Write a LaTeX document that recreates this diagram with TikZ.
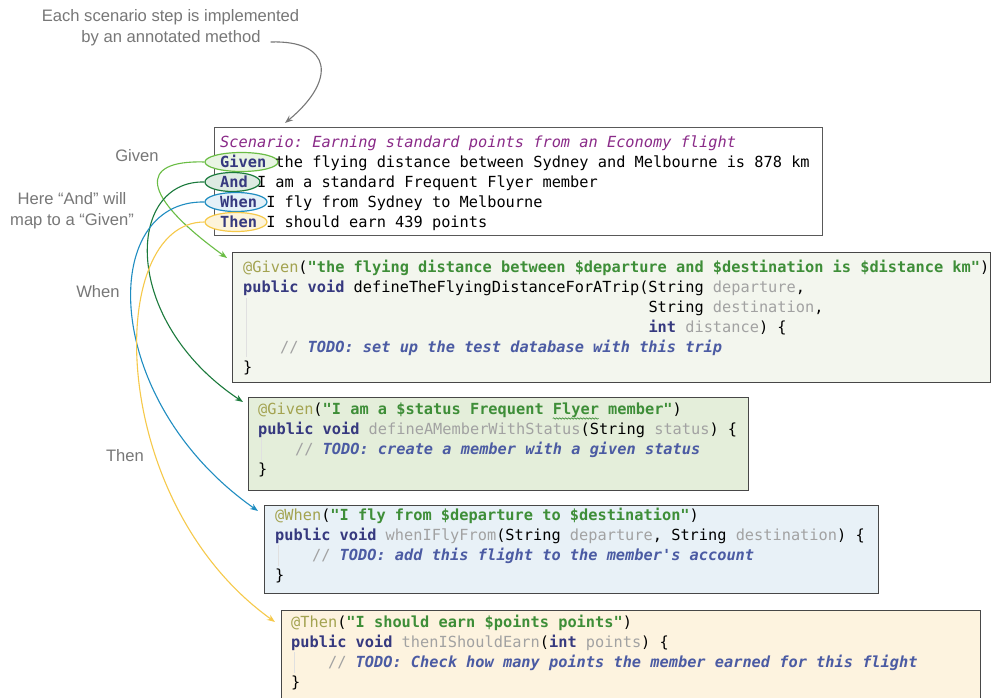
\documentclass[tikz,border=0pt]{standalone}
\usepackage{fontspec}
\setsansfont{Liberation Sans}
\setmonofont{DejaVu Sans Mono}
\usepackage{xcolor}
\usetikzlibrary{shapes.geometric, arrows.meta, positioning, calc, decorations.pathmorphing}

\definecolor{notegray}{HTML}{777777}
\definecolor{annotcol}{HTML}{A3A350}
\definecolor{strcol}{HTML}{3E8E38}
\definecolor{kwcol}{HTML}{36397F}
\definecolor{parcol}{HTML}{A2A2A2}
\definecolor{todocol}{HTML}{4B5BA3}
\definecolor{scencol}{HTML}{8A2A88}
\definecolor{givencol}{HTML}{6ABD45}
\definecolor{andcol}{HTML}{1B7A3C}
\definecolor{whencol}{HTML}{1F8DC1}
\definecolor{thencol}{HTML}{F6C94A}
\definecolor{boxonecol}{HTML}{F3F6EE}
\definecolor{boxtwocol}{HTML}{E4EEDA}
\definecolor{boxthreecol}{HTML}{E8F1F7}
\definecolor{boxfourcol}{HTML}{FDF3DF}

\newcommand{\notefont}{\fontsize{16.6}{21}\selectfont\sffamily}
\newcommand{\codefont}{\fontsize{15.3}{20}\selectfont\ttfamily}
\newcommand{\kwd}[1]{\textbf{\color{kwcol}#1}}
\newcommand{\annot}[1]{{\color{annotcol}#1}}
\newcommand{\strg}[1]{\textbf{\color{strcol}#1}}
\newcommand{\parm}[1]{{\color{parcol}#1}}
\newcommand{\tdo}[1]{{\color{parcol}//} \textbf{\textit{\color{todocol}#1}}}

\begin{document}
\begin{tikzpicture}[x=1pt, y=-1pt,
    note/.style={font=\notefont, text=notegray, inner sep=0pt, align=center},
    codebox/.style={draw=black!72, line width=1pt, anchor=north west, inner sep=0pt, outer sep=0pt},
    code/.style={anchor=north west, inner sep=0pt, align=left, font=\codefont},
    key/.style={ellipse, line width=1.2pt, inner sep=0pt, minimum height=19pt},
    link/.style={-{Stealth[length=8pt, width=6pt]}, line width=1.1pt},
    guide/.style={draw=black!12, line width=0.8pt}
]

\path[use as bounding box, fill=white] (0,0) rectangle (991,698);

% side notes
\node[note] (step1) at (170.5,17) {Each scenario step is implemented};
\node[note] (step2) at (171,38) {by an annotated method};
\node[note] (lGiven) at (137,156) {Given};
\node[note] (lAnd) at (72,211) {Here “And” will\\map to a “Given”};
\node[note] (lWhen) at (98,292) {When};
\node[note] (lThen) at (125,456) {Then};

% feature file
\node[codebox, draw=black!65, fill=white, minimum width=608pt, minimum height=107pt] (scen) at (214,128) {};
\node[key, draw=givencol, fill=givencol!15, minimum width=73pt] (kGiven) at (241.5,162) {};
\node[key, draw=andcol, fill=andcol!15, minimum width=55pt] (kAnd) at (232.5,182) {};
\node[key, draw=whencol, fill=whencol!12, minimum width=62pt] (kWhen) at (236,202) {};
\node[key, draw=thencol, fill=thencol!20, minimum width=62pt] (kThen) at (236,222) {};
\node[code] (scentxt) at (220,133.5) {\strut{\color{scencol}\itshape Scenario: Earning standard points from an Economy flight}\\
\kwd{Given} the flying distance between Sydney and Melbourne is 878 km\\
\kwd{And} I am a standard Frequent Flyer member\\
\kwd{When} I fly from Sydney to Melbourne\\
\kwd{Then} I should earn 439 points};

% step definitions
\node[codebox, fill=boxonecol, minimum width=758pt, minimum height=130pt] (cb1) at (232,252) {};
\draw[guide] (246,298) -- (246,357);
\node[code] (cb1txt) at (243,258.5) {\strut\annot{@Given}(\strg{"the flying distance between \$departure and \$destination is \$distance km"})\\
\kwd{public void} defineTheFlyingDistanceForATrip(String \parm{departure},\\
\hphantom{public void defineTheFlyingDistanceForATrip(}String \parm{destination},\\
\hphantom{public void defineTheFlyingDistanceForATrip(}\kwd{int} \parm{distance}) \{\\
\hphantom{xxxx}\tdo{TODO: set up the test database with this trip}\\
\}};

\node[codebox, fill=boxtwocol, minimum width=500pt, minimum height=93pt] (cb2) at (248,397) {};
\draw[guide] (261,438) -- (261,460);
\node[code] (cb2txt) at (258,400.5) {\strut\annot{@Given}(\strg{"I am a \$status Frequent Flyer member"})\\
\kwd{public void} \parm{defineAMemberWithStatus}(String \parm{status}) \{\\
\hphantom{xxxx}\tdo{TODO: create a member with a given status}\\
\}};
\draw[decorate, decoration={snake, amplitude=0.7pt, segment length=3pt}, strcol, line width=0.6pt] ($(cb2txt.north west)+(294.7,18)$) -- ++(46,0);

\node[codebox, fill=boxthreecol, minimum width=614pt, minimum height=88pt] (cb3) at (264,505) {};
\draw[guide] (278,545) -- (278,566);
\node[code] (cb3txt) at (275,506.5) {\strut\annot{@When}(\strg{"I fly from \$departure to \$destination"})\\
\kwd{public void} \parm{whenIFlyFrom}(String \parm{departure}, String \parm{destination}) \{\\
\hphantom{xxxx}\tdo{TODO: add this flight to the member's account}\\
\}};

\node[codebox, fill=boxfourcol, minimum width=699pt, minimum height=95pt] (cb4) at (281,610) {};
\draw[guide] (294,652) -- (294,673);
\node[code] (cb4txt) at (291,613.5) {\strut\annot{@Then}(\strg{"I should earn \$points points"})\\
\kwd{public void} \parm{thenIShouldEarn}(\kwd{int} \parm{points}) \{\\
\hphantom{xxxx}\tdo{TODO: Check how many points the member earned for this flight}\\
\}};

% connectors
\draw[link, notegray] ([xshift=10pt, yshift=-4pt]step2.east) .. controls (332,40) and (337,80) .. ([xshift=71pt, yshift=5pt]scen.north west);
\draw[link, givencol] (kGiven.west) .. controls (138,160) and (140,195) .. ([xshift=-5pt, yshift=-6pt]cb1.north west);
\draw[link, andcol] (kAnd.west) .. controls (126,180) and (120,320) .. ([xshift=-5pt, yshift=-5pt]cb2.north west);
\draw[link, whencol] (kWhen.west) .. controls (98,200) and (100,400) .. ([xshift=-6pt, yshift=-6pt]cb3.north west);
\draw[link, thencol] (kThen.west) .. controls (105,222) and (105,500) .. ([xshift=-6pt, yshift=-12pt]cb4.north west);

\end{tikzpicture}
\end{document}
